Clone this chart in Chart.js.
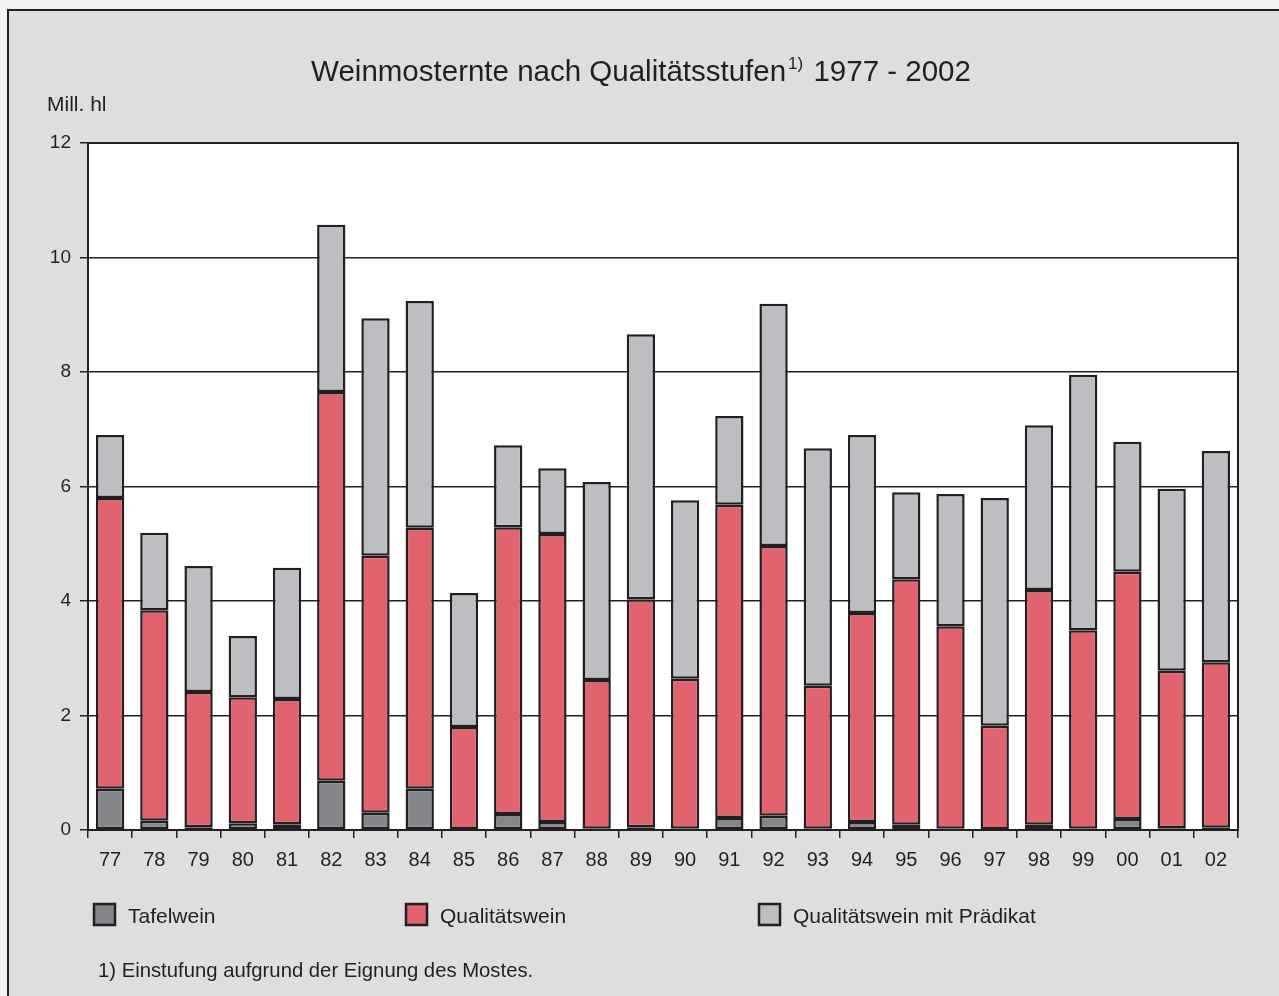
<!DOCTYPE html>
<html>
<head>
<meta charset="utf-8">
<script src="https://cdn.jsdelivr.net/npm/chart.js@4.4.1/dist/chart.umd.min.js"></script>
<style>
  html, body { margin:0; padding:0; background:#f4f4f4; }
  #wrap { position:relative; width:1279px; height:996px; }
</style>
</head>
<body>
<div id="wrap"><canvas id="chart" width="1279" height="996"></canvas></div>
<script>
// --- Daten (Mill. hl) ---
const years = ['77','78','79','80','81','82','83','84','85','86','87','88','89','90','91','92','93','94','95','96','97','98','99','00','01','02'];
const tafelwein = [0.72,0.16,0.05,0.12,0.10,0.86,0.30,0.72,0.01,0.28,0.14,0.02,0.05,0.02,0.21,0.25,0.02,0.14,0.09,0.02,0.01,0.09,0.02,0.19,0.03,0.04];
const qualitaetswein = [5.08,3.68,2.36,2.20,2.19,6.79,4.49,4.56,1.79,5.01,5.03,2.60,3.98,2.62,5.47,4.71,2.50,3.65,4.29,3.54,1.81,4.10,3.47,4.32,2.75,2.89];
const praedikat = [1.10,1.35,2.20,1.07,2.29,2.92,4.15,3.96,2.34,1.43,1.15,3.46,4.63,3.12,1.55,4.23,4.15,3.11,1.52,2.31,3.98,2.88,4.46,2.27,3.18,3.69];
const yTicks = [0,2,4,6,8,10,12];

const FONT = "'Liberation Sans', Arial, sans-serif";
const INK = '#231f20';

// --- Hintergrund, Rahmen, Titel, Legende, Fussnote ---
const decor = {
  id: 'decor',
  beforeDraw(chart) {
    const c = chart.ctx;
    c.save();
    c.fillStyle = '#dedede';
    c.fillRect(8, 10, chart.width - 8, chart.height - 10);
    c.strokeStyle = INK;
    c.lineWidth = 2;
    c.beginPath();
    c.moveTo(8, chart.height);
    c.lineTo(8, 10);
    c.lineTo(chart.width, 10);
    c.stroke();
    const a = chart.chartArea;
    c.fillStyle = '#ffffff';
    c.fillRect(a.left, a.top, a.right - a.left, a.bottom - a.top);
    c.restore();
  },
  afterDraw(chart) {
    const c = chart.ctx;
    const a = chart.chartArea;
    c.save();
    c.strokeStyle = INK;
    c.lineWidth = 2;
    c.strokeRect(a.left, a.top, a.right - a.left, a.bottom - a.top);

    // Titel mit Hochzahl
    c.fillStyle = INK;
    c.textBaseline = 'alphabetic';
    const t1 = 'Weinmosternte nach Qualitätsstufen';
    const t2 = ' 1977 - 2002';
    c.font = '29.5px ' + FONT;
    const w1 = c.measureText(t1).width;
    const w3 = c.measureText(t2).width;
    c.font = '17px ' + FONT;
    const w2 = c.measureText('1)').width;
    let x = 641 - (w1 + w2 + w3 + 4) / 2;
    c.font = '29.5px ' + FONT;
    c.fillText(t1, x, 81);
    x += w1 + 2;
    c.font = '17px ' + FONT;
    c.fillText('1)', x, 69);
    x += w2 + 2;
    c.font = '29.5px ' + FONT;
    c.fillText(t2, x, 81);

    c.font = '21px ' + FONT;
    c.fillText('Mill. hl', 47, 111);

    // Legende
    const lx = [94, 406, 759];
    chart.data.datasets.forEach((ds, i) => {
      c.fillStyle = ds.backgroundColor;
      c.fillRect(lx[i], 904, 21, 21);
      c.strokeStyle = INK;
      c.lineWidth = 2.5;
      c.strokeRect(lx[i], 904, 21, 21);
      c.fillStyle = INK;
      c.font = '21px ' + FONT;
      c.fillText(ds.label, lx[i] + 34, 923);
    });

    c.font = '20.3px ' + FONT;
    c.fillText('1) Einstufung aufgrund der Eignung des Mostes.', 98, 977);
    c.restore();
  }
};

const common = { borderColor: INK, borderWidth: 2.5, borderSkipped: false, barPercentage: 0.64, categoryPercentage: 1.0 };

new Chart(document.getElementById('chart'), {
  type: 'bar',
  data: {
    labels: years,
    datasets: [
      Object.assign({ label: 'Tafelwein', data: tafelwein, backgroundColor: '#85868a' }, common),
      Object.assign({ label: 'Qualitätswein', data: qualitaetswein, backgroundColor: '#e0636e' }, common),
      Object.assign({ label: 'Qualitätswein mit Prädikat', data: praedikat, backgroundColor: '#bdbec2' }, common)
    ]
  },
  options: {
    responsive: false,
    animation: false,
    layout: { padding: { top: 143, right: 41, left: 0, bottom: 0 } },
    plugins: { legend: { display: false }, title: { display: false }, tooltip: { enabled: false } },
    scales: {
      x: {
        stacked: true,
        afterFit: s => { s.height = 166; },
        grid: { offset: true, drawOnChartArea: false, drawTicks: true, tickLength: 8, color: INK, lineWidth: 1.5 },
        border: { color: INK, width: 2 },
        ticks: { color: INK, font: { family: FONT, size: 20 }, padding: 10, maxRotation: 0 }
      },
      y: {
        stacked: true,
        min: 0, max: 12,
        afterFit: s => { s.width = 88; },
        afterBuildTicks: s => { s.ticks = yTicks.map(v => ({ value: v })); },
        grid: { color: INK, lineWidth: 1.5, tickLength: 8 },
        border: { color: INK, width: 2 },
        ticks: { color: INK, font: { family: FONT, size: 19 }, padding: 9 }
      }
    }
  },
  plugins: [decor]
});
</script>
</body>
</html>
